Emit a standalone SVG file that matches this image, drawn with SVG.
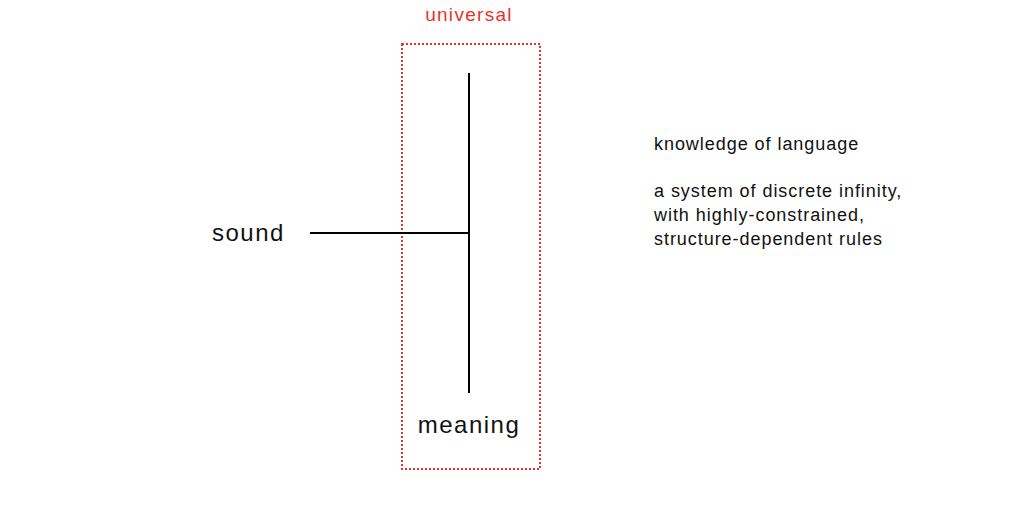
<svg xmlns="http://www.w3.org/2000/svg" width="1022" height="506" viewBox="0 0 1022 506">
<style>
text{font-family:"Liberation Sans",Arial,sans-serif;fill:#111}
.big{font-size:24px;letter-spacing:1.5px}
.small{font-size:18px;letter-spacing:0.95px}
.line{stroke:#000;stroke-width:2;fill:none}
</style>
<rect width="1022" height="506" fill="#fff"/>
<g id="universal">
<rect x="402" y="44" width="138" height="425" fill="none" stroke="#e8322b" stroke-width="2" stroke-dasharray="2,2"/>
<text x="469" y="21" text-anchor="middle" style="fill:#e8322b;font-size:19px;letter-spacing:1.3px">universal</text>
</g>
<g id="connectors">
<line class="line" x1="469" y1="73" x2="469" y2="393"/>
<line class="line" x1="310" y1="233" x2="469" y2="233"/>
</g>
<g id="sound"><text class="big" x="212" y="241">sound</text></g>
<g id="meaning"><text class="big" x="469" y="433" text-anchor="middle">meaning</text></g>
<g id="knowledge">
<text class="small" x="654" y="150">knowledge of language</text>
<text class="small" x="654" y="197">a system of discrete infinity,</text>
<text class="small" x="654" y="221">with highly-constrained,</text>
<text class="small" x="654" y="245">structure-dependent rules</text>
</g>
</svg>
